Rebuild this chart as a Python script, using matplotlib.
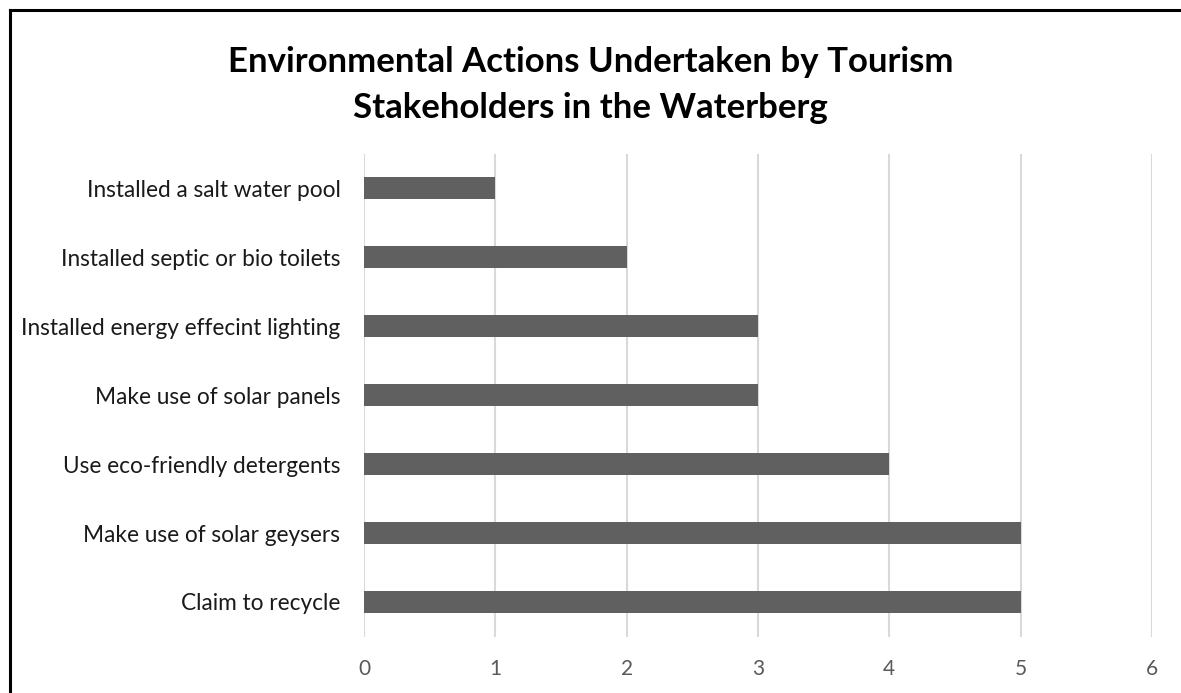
import matplotlib
matplotlib.use("Agg")
import matplotlib.pyplot as plt
from matplotlib.lines import Line2D

categories = [
    "Installed a salt water pool",
    "Installed septic or bio toilets",
    "Installed energy effecint lighting",
    "Make use of solar panels",
    "Use eco-friendly detergents",
    "Make use of solar geysers",
    "Claim to recycle",
]
values = [1, 2, 3, 3, 4, 5, 5]
xticks = [0, 1, 2, 3, 4, 5, 6]
title_lines = ["Environmental Actions Undertaken by Tourism",
               "Stakeholders in the Waterberg"]

plt.rcParams['font.family'] = ['Lato', 'DejaVu Sans']

W, H = 1181, 693
fig = plt.figure(figsize=(W / 100, H / 100), dpi=100)
ax = fig.add_axes([364 / W, 1 - 636.5 / H, (1152 - 364) / W, (636.5 - 153.5) / H])

ypos = list(range(len(categories)))
ax.barh(ypos, values, height=0.333, color="#606060", zorder=3)
ax.set_ylim(len(categories) - 0.5, -0.5)
ax.set_xlim(0, 6)
ax.set_xticks(xticks)
ax.set_xticklabels([str(t) for t in xticks], fontsize=15, color="#595959")
ax.set_yticks(ypos)
ax.set_yticklabels(categories, fontsize=16.3, color="#1a1a1a")
ax.tick_params(axis="both", length=0)
ax.tick_params(axis="y", pad=17)
ax.tick_params(axis="x", pad=16)
ax.grid(axis="x", color="#d9d9d9", linewidth=1.5, zorder=0)
for s in ax.spines.values():
    s.set_visible(False)

for i, line in enumerate(title_lines):
    fig.text(0.5, 1 - (62 + 46 * i) / H, line, ha="center", va="center", fontsize=25,
             fontweight="bold", color="#000000")

# partial border (left & top visible in reference)
fig.add_artist(Line2D([10 / W, 10 / W], [0, 1 - 10 / H], color="black", linewidth=2.2,
                      transform=fig.transFigure))
fig.add_artist(Line2D([10 / W, 1], [1 - 10 / H, 1 - 10 / H], color="black", linewidth=2.2,
                      transform=fig.transFigure))

fig.savefig("out.png", dpi=100, facecolor="white")
